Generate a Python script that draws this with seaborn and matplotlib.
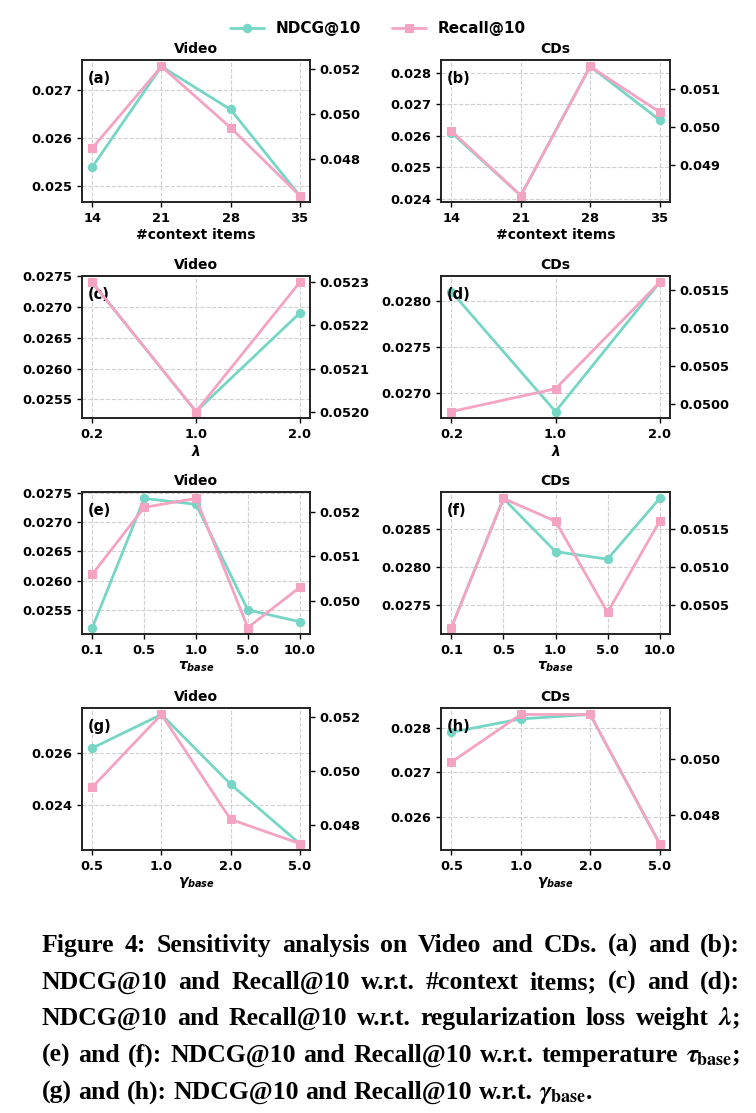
import pandas as pd
import seaborn as sns
import matplotlib.pyplot as plt

# values
ctx_items = ["14", "21", "28", "35"]
video_ctx_ndcg = [0.0254, 0.0275, 0.0266, 0.0248]
video_ctx_recall = [0.0485, 0.0521, 0.0494, 0.0464]
cds_ctx_ndcg = [0.0261, 0.0241, 0.0282, 0.0265]
cds_ctx_recall = [0.0499, 0.0482, 0.0516, 0.0504]

lambdas = ["0.2", "1.0", "2.0"]
video_lam_ndcg = [0.0274, 0.0253, 0.0269]
video_lam_recall = [0.0523, 0.0520, 0.0523]
cds_lam_ndcg = [0.0281, 0.0268, 0.0282]
cds_lam_recall = [0.0499, 0.0502, 0.0516]

taus = ["0.1", "0.5", "1.0", "5.0", "10.0"]
video_tau_ndcg = [0.0252, 0.0274, 0.0273, 0.0255, 0.0253]
video_tau_recall = [0.0506, 0.0521, 0.0523, 0.0494, 0.0503]
cds_tau_ndcg = [0.0272, 0.0289, 0.0282, 0.0281, 0.0289]
cds_tau_recall = [0.0502, 0.0519, 0.0516, 0.0504, 0.0516]

gammas = ["0.5", "1.0", "2.0", "5.0"]
video_gam_ndcg = [0.0262, 0.0275, 0.0248, 0.0225]
video_gam_recall = [0.0494, 0.0521, 0.0482, 0.0473]
cds_gam_ndcg = [0.0279, 0.0282, 0.0283, 0.0254]
cds_gam_recall = [0.0499, 0.0516, 0.0516, 0.0470]

caption_lines = [
    "Figure 4: Sensitivity analysis on Video and CDs. (a) and (b):",
    "NDCG@10 and Recall@10 w.r.t. #context items; (c) and (d):",
    r"NDCG@10 and Recall@10 w.r.t. regularization loss weight $\lambda$;",
    r"(e) and (f): NDCG@10 and Recall@10 w.r.t. temperature $\tau_{\mathrm{base}}$;",
    r"(g) and (h): NDCG@10 and Recall@10 w.r.t. $\gamma_{\mathrm{base}}$.",
]

TEAL = "#76d6c5"
PINK = "#f5a3c3"

sns.set_style("ticks")
plt.rcParams["font.family"] = ["DejaVu Sans"]
plt.rcParams["font.weight"] = "bold"
plt.rcParams["axes.titleweight"] = "bold"
plt.rcParams["axes.labelweight"] = "bold"
plt.rcParams["text.color"] = "black"
plt.rcParams["axes.labelcolor"] = "black"
plt.rcParams["xtick.color"] = "black"
plt.rcParams["ytick.color"] = "black"
plt.rcParams["mathtext.fontset"] = "custom"
plt.rcParams["mathtext.it"] = "DejaVu Sans:italic:bold"
plt.rcParams["mathtext.rm"] = "DejaVu Sans:bold"
plt.rcParams["mathtext.bf"] = "DejaVu Sans:bold"

W, H = 756, 1113
fig = plt.figure(figsize=(W / 100, H / 100), dpi=100)


def px_axes(left, top, width, height):
    return fig.add_axes([left / W, 1 - (top + height) / H, width / W, height / H])


def draw_panel(ax, x, ndcg, recall, title, xlabel, tag):
    df = pd.DataFrame({"x": x, "ndcg": ndcg, "recall": recall})
    sns.lineplot(data=df, x="x", y="ndcg", ax=ax, color=TEAL, marker="o",
                 markersize=6, linewidth=2, markeredgecolor=TEAL,
                 label="NDCG@10", legend=False)
    ax.grid(True, linestyle="--", color="#d0d0d0", linewidth=0.8)
    ax2 = ax.twinx()
    sns.lineplot(data=df, x="x", y="recall", ax=ax2, color=PINK, marker="s",
                 markersize=6, linewidth=2, markeredgecolor=PINK,
                 label="Recall@10", legend=False)
    for a in (ax, ax2):
        a.set_ylabel("")
        a.ticklabel_format(axis="y", useOffset=False)
        a.tick_params(labelsize=9.4, width=1, length=3.5, colors="black")
        for s in a.spines.values():
            s.set_linewidth(1.2)
            s.set_color("#222222")
    ax.set_xlabel(xlabel, fontsize=10, labelpad=2)
    ax.set_title(title, fontsize=10, pad=5)
    ax.text(0.025, 0.92, tag, transform=ax.transAxes, fontsize=10.5,
            fontweight="bold", va="top", ha="left", zorder=10)
    return ax2


cols = [(82, 228), (441, 229)]
rows = [60, 276, 492, 708]
ph = 142

panels = [
    (ctx_items, video_ctx_ndcg, video_ctx_recall, "Video", "#context items", "(a)"),
    (ctx_items, cds_ctx_ndcg, cds_ctx_recall, "CDs", "#context items", "(b)"),
    (lambdas, video_lam_ndcg, video_lam_recall, "Video", r"$\lambda$", "(c)"),
    (lambdas, cds_lam_ndcg, cds_lam_recall, "CDs", r"$\lambda$", "(d)"),
    (taus, video_tau_ndcg, video_tau_recall, "Video", r"$\tau_{base}$", "(e)"),
    (taus, cds_tau_ndcg, cds_tau_recall, "CDs", r"$\tau_{base}$", "(f)"),
    (gammas, video_gam_ndcg, video_gam_recall, "Video", r"$\gamma_{base}$", "(g)"),
    (gammas, cds_gam_ndcg, cds_gam_recall, "CDs", r"$\gamma_{base}$", "(h)"),
]

first_ax = None
first_ax2 = None
for i, (x, nd, rc, title, xlabel, tag) in enumerate(panels):
    left, width = cols[i % 2]
    top = rows[i // 2]
    ax = px_axes(left, top, width, ph)
    ax2 = draw_panel(ax, x, nd, rc, title, xlabel, tag)
    if first_ax is None:
        first_ax, first_ax2 = ax, ax2

h1, l1 = first_ax.get_legend_handles_labels()
h2, l2 = first_ax2.get_legend_handles_labels()
fig.legend(h1 + h2, l1 + l2, loc="center", bbox_to_anchor=(0.5, 1 - 29 / H),
           ncol=2, frameon=False, prop={"size": 11, "weight": "bold"},
           handlelength=2.2, columnspacing=2.0)

# caption, justified like the paper (last line ragged)
cap_kw = dict(fontsize=18.5, fontweight="bold", family="Liberation Serif",
              math_fontfamily="stix", ha="left", va="baseline", color="black")
renderer = fig.canvas.get_renderer()


def text_width(s):
    t = fig.text(0, 0, s, **cap_kw)
    w = t.get_window_extent(renderer).width
    t.remove()
    return w


cap_left, cap_right = 42, 740
cap_baseline = [952, 989, 1025, 1062, 1099]
space_w = text_width("a a") - text_width("aa")
for k, (line, y) in enumerate(zip(caption_lines, cap_baseline)):
    words = line.split(" ")
    widths = [text_width(w) for w in words]
    if k < len(caption_lines) - 1:
        gap = (cap_right - cap_left - sum(widths)) / (len(words) - 1)
    else:
        gap = space_w
    xpos = cap_left
    for w, ww in zip(words, widths):
        fig.text(xpos / W, 1 - y / H, w, **cap_kw)
        xpos += ww + gap

fig.savefig("out.png", dpi=100)
